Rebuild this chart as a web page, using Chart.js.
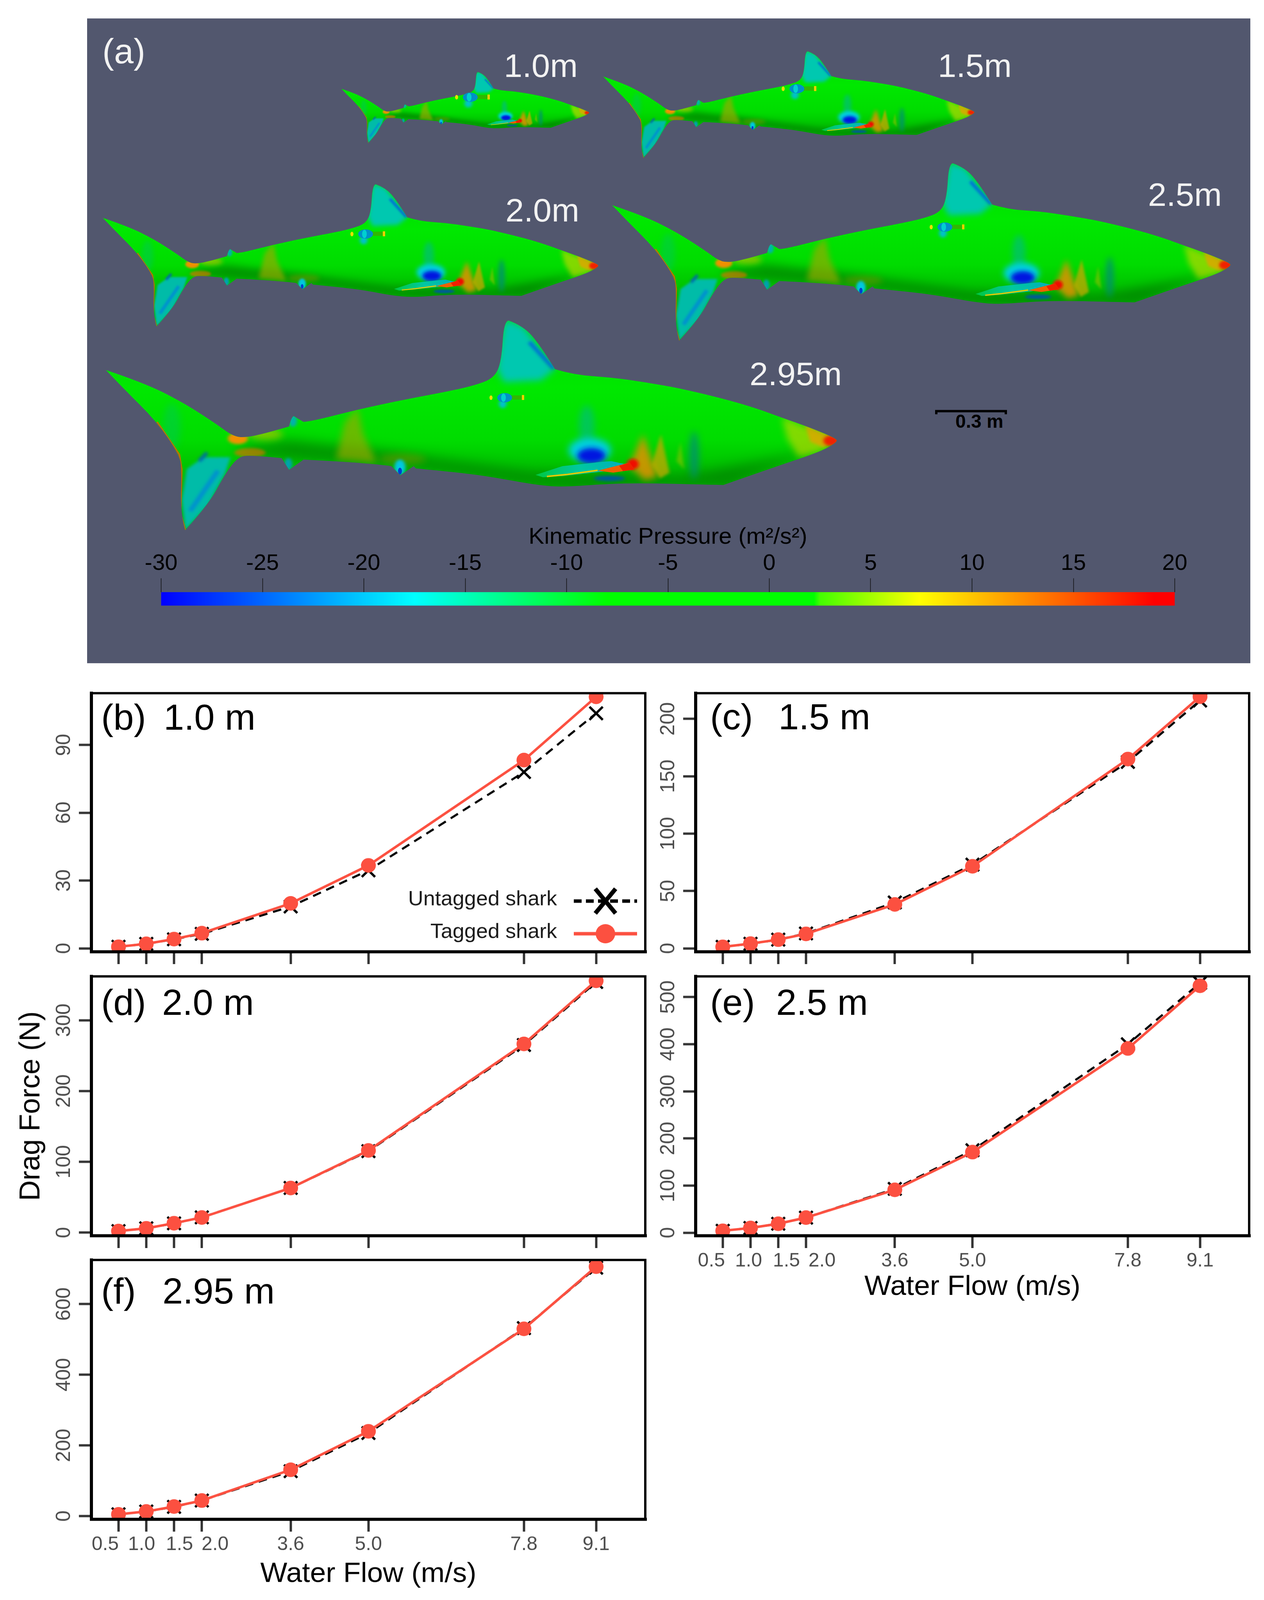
<!DOCTYPE html>
<html><head><meta charset="utf-8">
<script src="https://cdn.jsdelivr.net/npm/chart.js@4"></script>
<style>
html,body{margin:0;padding:0;background:#fff;overflow:hidden}
#page{position:relative;width:3236px;height:4164px;overflow:hidden;background:#fff;font-family:"Liberation Sans",Arial,sans-serif;transform-origin:0 0}
#art{position:absolute;left:0;top:0;z-index:1}
canvas{position:absolute;z-index:2}
</style></head><body><div id="page">
<svg id="art" width="3236" height="4164" viewBox="0 0 3236 4164" xmlns="http://www.w3.org/2000/svg" font-family="Liberation Sans, Arial, sans-serif">
<defs>
<linearGradient id="bodyG" gradientUnits="userSpaceOnUse" x1="0" y1="834" x2="0" y2="1266">
<stop offset="0" stop-color="#00d800"/><stop offset=".4" stop-color="#00e800"/><stop offset=".72" stop-color="#00dc00"/><stop offset="1" stop-color="#00b000"/>
</linearGradient>
<linearGradient id="finG" gradientUnits="userSpaceOnUse" x1="1371" y1="1240" x2="1620" y2="1200">
<stop offset="0" stop-color="#00c840"/><stop offset=".45" stop-color="#00c8a0"/><stop offset="1" stop-color="#00a8c0"/>
</linearGradient>
<filter id="b4" x="-60%" y="-60%" width="220%" height="220%"><feGaussianBlur stdDeviation="4"/></filter>
<filter id="b7" x="-60%" y="-60%" width="220%" height="220%"><feGaussianBlur stdDeviation="7"/></filter>
<filter id="b9" x="-80%" y="-80%" width="260%" height="260%"><feGaussianBlur stdDeviation="9"/></filter>
<filter id="b16" x="-80%" y="-80%" width="260%" height="260%"><feGaussianBlur stdDeviation="16"/></filter>
<clipPath id="sharkClip"><path id="outline" d=""/></clipPath>
<g id="shark">
<g clip-path="url(#sharkClip)">
<rect x="250" y="820" width="1920" height="580" fill="url(#bodyG)"/>
<polygon points="602,1167 740,1144 990,1175 1365,1229 1740,1240 2090,1175 1865,1263 1490,1267 1340,1257 1052,1217 777,1198 640,1186" fill="#007a00" opacity=".7" filter="url(#b16)"/>
<polygon points="915,1060 882,1100 860,1195 965,1205 930,1130" fill="#a0a800" opacity=".65" filter="url(#b9)"/>
<ellipse cx="1030" cy="1195" rx="60" ry="14" fill="#b09000" opacity=".35" filter="url(#b9)"/>
<polygon points="1290,836 1302,834 1340,848 1421,961 1385,990 1290,995 1272,960" fill="#00c8b0" filter="url(#b9)"/>
<line x1="1355" y1="890" x2="1418" y2="960" stroke="#0070d8" stroke-width="10" filter="url(#b4)"/>
<ellipse cx="1502" cy="1110" rx="20" ry="55" fill="#00b890" opacity=".6" filter="url(#b9)"/>
<ellipse cx="1510" cy="1172" rx="54" ry="32" fill="#00d0e0" filter="url(#b9)"/>
<ellipse cx="1514" cy="1186" rx="36" ry="20" fill="#0018e0" filter="url(#b7)"/>
<polygon points="1646,1130 1612,1212 1650,1250 1684,1240" fill="#e49000" opacity=".85" filter="url(#b9)"/>
<polygon points="1692,1130 1668,1210 1690,1245 1714,1230" fill="#c8a800" opacity=".75" filter="url(#b4)"/>
<polygon points="1742,1150 1732,1200 1752,1222" fill="#a0c000" opacity=".55" filter="url(#b4)"/>
<ellipse cx="1777" cy="1185" rx="12" ry="62" fill="#008880" opacity=".75" filter="url(#b9)"/>
<ellipse cx="1620" cy="1208" rx="15" ry="14" fill="#f01000" filter="url(#b4)"/>
<ellipse cx="1560" cy="1245" rx="40" ry="7" fill="#0050b0" opacity=".9" filter="url(#b4)"/>
<polygon points="2002,1085 2140,1141 2102,1175 2045,1190 2015,1140" fill="#d8d800" opacity=".6" filter="url(#b9)"/>
<polygon points="2060,1105 2142,1142 2110,1165 2075,1150" fill="#e8a000" opacity=".75" filter="url(#b4)"/>
<ellipse cx="2128" cy="1147" rx="20" ry="14" fill="#f02000" filter="url(#b4)"/>
<ellipse cx="609" cy="1141" rx="26" ry="15" fill="#f09000" filter="url(#b4)"/>
<ellipse cx="680" cy="1130" rx="44" ry="14" fill="#c0c000" opacity=".65" filter="url(#b9)"/>
<ellipse cx="640" cy="1178" rx="40" ry="12" fill="#e07000" opacity=".65" filter="url(#b4)"/>
<polygon points="521,1190 590,1190 577,1232 534,1313 474,1380 465,1300 478,1221" fill="#00bca8" filter="url(#b4)"/>
<line x1="558" y1="1225" x2="487" y2="1330" stroke="#0090d0" stroke-width="12" filter="url(#b4)"/>
<line x1="510" y1="1200" x2="530" y2="1178" stroke="#0050d0" stroke-width="9" opacity=".8" filter="url(#b4)"/>
<ellipse cx="440" cy="1110" rx="22" ry="60" fill="#00c070" opacity=".4" filter="url(#b9)"/>
<ellipse cx="750" cy="1095" rx="10" ry="16" fill="#00b0b0" filter="url(#b4)"/>
<ellipse cx="738" cy="1208" rx="10" ry="16" fill="#00a0b0" filter="url(#b4)"/>
<ellipse cx="1024" cy="1216" rx="14" ry="20" fill="#00c8e0" filter="url(#b4)"/>
<ellipse cx="1024" cy="1226" rx="5" ry="9" fill="#0040d0"/>
<polyline points="474,1380 462,1336 465,1221 459,1183 402,1098" fill="none" stroke="#e06000" stroke-width="5" opacity=".8"/>
</g>
<polygon points="1371,1236 1440,1213 1540,1202 1565,1200 1615,1211 1621,1219 1527,1229 1440,1239 1390,1242" fill="url(#finG)"/>
<polyline points="1400,1240 1450,1235 1530,1224" fill="none" stroke="#e8c800" stroke-width="4"/>
<polygon points="1530,1225 1580,1212 1612,1204 1624,1222 1570,1230" fill="#f06000"/>
<polygon points="1585,1212 1612,1204 1624,1222 1595,1226" fill="#f02000"/>
</g>
<g id="tag">
<ellipse cx="-5" cy="16" rx="10" ry="11" fill="#00c0d0" filter="url(#b4)"/>
<rect x="0" y="-6" width="48" height="11" fill="#30b800"/>
<rect x="44" y="-7" width="6" height="13" fill="#f0d000"/>
<ellipse cx="-35" cy="0" rx="4" ry="6" fill="#e8e000"/>
<ellipse cx="0" cy="0" rx="19" ry="12" fill="#0090c8"/>
<ellipse cx="-3" cy="0" rx="6" ry="11" fill="#00d0d0"/>
</g>
</defs>
<rect x="223" y="48" width="2978" height="1678" fill="#52576E"/>
<g id="artShapes"></g>
<g id="artText"></g>
</svg>
</div>
<script>
// ---- data ----
const flowSpeeds = [0.5, 1.0, 1.5, 2.0, 3.6, 5.0, 7.8, 9.1];
const seriesNames = ['Untagged shark', 'Tagged shark'];
const untagged10 = [0.7, 2.0, 4.0, 6.4, 18.5, 34.5, 78, 104];
const tagged10   = [0.7, 2.0, 4.1, 6.7, 19.9, 36.7, 83.3, 111.3];
const untagged15 = [1.3, 4.0, 7.6, 13.0, 40, 73, 162.5, 216];
const tagged15   = [1.3, 4.1, 7.6, 12.6, 38.3, 71.5, 165, 219.4];
const untagged20 = [2.1, 6.0, 13.0, 21.5, 63, 115, 265, 354];
const tagged20   = [2.1, 6.0, 13.2, 21.3, 63, 116, 266.6, 355.8];
const untagged25 = [4, 10, 19, 32, 93, 175, 400, 530];
const tagged25   = [4, 10, 19, 32, 91, 171, 391, 524];
const untagged295 = [5, 13, 26, 44, 127, 235, 532, 703];
const tagged295   = [5, 13, 27, 44, 131, 240, 530, 706];
const ticks10 = [0, 30, 60, 90];
const ticks15 = [0, 50, 100, 150, 200];
const ticks20 = [0, 100, 200, 300];
const ticks25 = [0, 100, 200, 300, 400, 500];
const ticks295 = [0, 200, 400, 600];
const pressureTicks = [-30, -25, -20, -15, -10, -5, 0, 5, 10, 15, 20];
const pressureStops = [-30, -17.5, -8, 2.2, 2.5, 7.4, 19, 20];
const pressureColors = ['#0000ff', '#00ffff', '#00ff00', '#00ff00', '#44ff00', '#ffff00', '#ff0000', '#ff0000'];
const xTitle = 'Water Flow (m/s)';
const yTitle = 'Drag Force (N)';
const pressureTitle = 'Kinematic Pressure (m²/s²)';

// the browser window can be shorter than the figure: squeeze the page so the whole figure shows
const FIG_H = 4164;
const fit = Math.min(1, window.innerHeight / FIG_H);
document.getElementById('page').style.transform = `scale(1,${fit})`;

// ---- figure layout ----
const RED = '#FC5040', GREY = '#4D4D4D', TICK = '#333333', SANS = '"Liberation Sans", Arial, sans-serif';
const panels = [
 {id:'b', size:'1.0 m', u:untagged10, t:tagged10, ticks:ticks10, box:[234,1804,1652,2477], y:[-1.53,112.9], tx:[265,423], base:1899, legend:true},
 {id:'c', size:'1.5 m', u:untagged15, t:tagged15, ticks:ticks15, box:[1781,1804,3198,2477], y:[-3.0,222.4], tx:[1824,1997], base:1898},
 {id:'d', size:'2.0 m', u:untagged20, t:tagged20, ticks:ticks20, box:[234,2541,1652,3216], y:[-4.5,362], tx:[265,419], base:2641, yTitle:true},
 {id:'e', size:'2.5 m', u:untagged25, t:tagged25, ticks:ticks25, box:[1781,2541,3198,3216], y:[-6.5,544], tx:[1824,1991], base:2641, labels:[-29,-5,21,41,0,0,0,0], titlePad:62},
 {id:'f', size:'2.95 m', u:untagged295, t:tagged295, ticks:ticks295, box:[234,3279,1652,3954], y:[-9.2,725], tx:[265,420], base:3392, labels:[-34,-12,14,34,0,0,0,0], titlePad:53}
];
const X_RANGE = [0.012, 9.985], AXIS_W = 200, PAD_T = 40, PAD_R = 30, AXIS_H = 60, AXIS_H_LAB = 240;

// ---- illustration in panel (a): one outline, scaled per shark length ----
const outlinePts = [[271,963,1],[365,995],[465,1045],[552,1102],[596,1135],[627,1139],[680,1128],[740,1110,1],[746,1085],[752,1083,1],[777,1098,1],[796,1097],[915,1066],[1040,1039],[1150,1018],[1215,1003],[1265,984],[1284,940],[1290,836],[1302,834,1],[1340,848],[1384,900],[1421,961,1],[1471,976],[1565,982],[1652,995],[1740,1010],[1865,1041],[1940,1064],[2002,1087],[2077,1114],[2140,1141],[2144,1150],[2102,1175],[1990,1213],[1852,1262,1],[1802,1261],[1652,1257],[1552,1259],[1440,1268],[1365,1261],[1265,1242],[1177,1230],[1065,1219,1],[1059,1213,1],[1025,1237,1],[1002,1213,1],[940,1204],[777,1196,1],[740,1223,1],[721,1192,1],[640,1184],[609,1190],[577,1232],[534,1313],[474,1380,1],[462,1336],[465,1221],[459,1183],[402,1098],[315,1010]];
function smoothPath(p){
  let d = 'M'+p[0][0]+' '+p[0][1];
  const n = p.length;
  for(let i=1;i<=n;i++){
    const c = p[i%n], nx = p[(i+1)%n];
    if(c[2]){ d += ' L'+c[0]+' '+c[1]; continue; }
    const tx = nx[2] ? nx[0] : (c[0]+nx[0])/2, ty = nx[2] ? nx[1] : (c[1]+nx[1])/2;
    d += ' Q'+c[0]+' '+c[1]+' '+tx+' '+ty;
  }
  return d+' Z';
}
document.getElementById('outline').setAttribute('d',smoothPath(outlinePts));

const NS = 'http://www.w3.org/2000/svg';
function svgText(s, x, y, size, fill, extra){
  const t = document.createElementNS(NS,'text');
  t.textContent = s; t.setAttribute('x',x); t.setAttribute('y',y);
  t.setAttribute('font-size',size); t.setAttribute('fill',fill);
  if(extra) for(const k in extra) t.setAttribute(k,extra[k]);
  document.getElementById('artText').appendChild(t);
}
const shapes = document.getElementById('artShapes');
[[1,271,963,1292,1035],[.846,1567,534,2419,591],[.678,263,567,936,609],[.508,1544,199,2040,231],[.339,874,231,1204,253]].forEach(([s,x,y,tagX,tagY])=>{
  const u = document.createElementNS(NS,'use');
  u.setAttribute('href','#shark');
  u.setAttribute('transform',`translate(${x} ${y}) scale(${s}) translate(-271 -963)`);
  shapes.appendChild(u);
  const g = document.createElementNS(NS,'use');
  g.setAttribute('href','#tag');
  g.setAttribute('transform',`translate(${tagX} ${tagY})`);
  shapes.appendChild(g);
});
svgText('(a)',262,165,90,'#F2F2F2');
[['1.0m',1290,200],['1.5m',2401,200],['2.0m',1294,576],['2.5m',2939,536],['2.95m',1919,1002]].forEach(([s,x,y])=>svgText(s,x,y,85,'#F2F2F2'));
svgText('0.3 m',2446,1113,48,'#000',{'font-weight':'bold'});
const bar = document.createElementNS(NS,'path');
bar.setAttribute('d','M2397 1078 V1070 H2575 V1078'); bar.setAttribute('fill','none'); bar.setAttribute('stroke','#000'); bar.setAttribute('stroke-width','6');
shapes.appendChild(bar);
panels.forEach(p=>{
  svgText('('+p.id+')',p.tx[0]-6,p.base,94,'#000');
  svgText(p.size,p.tx[1]-4,p.base,94,'#000');
});

// plugin: moves tick labels (ggplot's dodged labels, rotated y labels) and draws the frame
const panelFrame = {
  id:'panelFrame',
  beforeDraw(chart){
    const o = chart.options.plugins.panelFrame; if(!o || !o.on) return;
    const a = chart.chartArea;
    chart.scales.y.getLabelItems(a).forEach(it=>{ it.options.translation[0] = a.left - 69; });
    if(o.labels){
      chart.scales.x.getLabelItems(a).forEach((it,i)=>{ it.options.translation[0] += o.labels[i]; });
    }
  },
  afterDatasetsDraw(chart){
    const o = chart.options.plugins.panelFrame; if(!o || !o.on) return;
    const c = chart.ctx, a = chart.chartArea;
    c.save(); c.strokeStyle='#000'; c.lineCap='square';
    c.lineWidth=6; c.beginPath(); c.moveTo(a.left,a.top); c.lineTo(a.right,a.top); c.lineTo(a.right,a.bottom); c.stroke();
    c.lineWidth=8; c.beginPath(); c.moveTo(a.left,a.top); c.lineTo(a.left,a.bottom); c.lineTo(a.right,a.bottom); c.stroke();
    c.restore();
  }
};
// plugin: key inside panel (b): text on the left, sample on the right
const insideKey = {
  id:'insideKey',
  afterDraw(chart){
    const o = chart.options.plugins.insideKey; if(!o || !o.on) return;
    const c = chart.ctx, a = chart.chartArea;
    const textR = a.right-226, keyL = a.right-183, keyR = a.right-21, keyC = a.right-102;
    const rows = [[a.bottom-132,0],[a.bottom-47,1]];
    c.save();
    rows.forEach(([y,i])=>{
      const d = chart.data.datasets[i];
      c.fillStyle='#1a1a1a'; c.font='54px '+SANS; c.textAlign='right'; c.textBaseline='middle';
      c.fillText(d.label,textR,y-4);
      c.strokeStyle=d.borderColor; c.lineWidth=9; c.setLineDash(i?[]:[20,11]);
      c.beginPath(); c.moveTo(keyL,y); c.lineTo(keyR,y); c.stroke(); c.setLineDash([]);
      if(i){ c.fillStyle=d.pointBackgroundColor; c.beginPath(); c.arc(keyC,y,25,0,Math.PI*2); c.fill(); }
      else { c.strokeStyle='#000'; c.lineWidth=11; c.beginPath(); c.moveTo(keyC-26,y-32); c.lineTo(keyC+26,y+32); c.moveTo(keyC+26,y-32); c.lineTo(keyC-26,y+32); c.stroke(); }
    });
    c.restore();
  }
};
Chart.register(panelFrame, insideKey);

function mkCanvas(l,t,w,h){
  const cv = document.createElement('canvas');
  cv.width=w; cv.height=h; cv.style.left=l+'px'; cv.style.top=t+'px'; cv.style.width=w+'px'; cv.style.height=h+'px';
  document.getElementById('page').appendChild(cv);
  return cv;
}

panels.forEach(p=>{
  const [l,t,r,b] = p.box;
  const axisH = p.labels ? AXIS_H_LAB : AXIS_H;
  const cv = mkCanvas(l-AXIS_W, t-PAD_T, r-l+AXIS_W+PAD_R, b-t+PAD_T+axisH);
  new Chart(cv,{
    type:'line',
    data:{datasets:[
      {label:seriesNames[0], data:flowSpeeds.map((x,i)=>({x,y:p.u[i]})), order:2, clip:0,
       borderColor:'#000', borderWidth:5.5, borderDash:[22,15], pointStyle:'crossRot', pointRadius:24,
       pointBorderColor:'#000', pointBorderWidth:6, pointBackgroundColor:'transparent', tension:0},
      {label:seriesNames[1], data:flowSpeeds.map((x,i)=>({x,y:p.t[i]})), order:1, clip:0,
       borderColor:RED, borderWidth:6.5, pointStyle:'circle', pointRadius:19, pointBorderWidth:0,
       pointBackgroundColor:RED, tension:0}
    ]},
    options:{
      responsive:false, animation:false, devicePixelRatio:1, events:[],
      layout:{padding:{top:PAD_T,right:PAD_R,left:0,bottom:0}},
      plugins:{legend:{display:false},tooltip:{enabled:false},title:{display:false},
        panelFrame:{on:true,labels:p.labels||null}, insideKey:{on:!!p.legend}},
      scales:{
        x:{type:'linear',min:X_RANGE[0],max:X_RANGE[1],
           afterBuildTicks:s=>{s.ticks=flowSpeeds.map(value=>({value}));},
           afterFit:s=>{s.height=axisH;},
           grid:{drawOnChartArea:false,drawTicks:true,tickLength:32,tickColor:TICK,tickWidth:6},
           border:{display:false},
           ticks:{display:!!p.labels,autoSkip:false,maxRotation:0,minRotation:0,padding:4,color:GREY,
                  font:{family:SANS,size:50},callback:v=>Number(v).toFixed(1)},
           title:{display:!!p.labels,text:xTitle,color:'#000',font:{family:SANS,size:73},padding:{top:0,bottom:p.titlePad||0}}},
        y:{type:'linear',min:p.y[0],max:p.y[1],
           afterBuildTicks:s=>{s.ticks=p.ticks.map(value=>({value}));},
           afterFit:s=>{s.width=AXIS_W;},
           grid:{drawOnChartArea:false,tickLength:32,tickColor:TICK,tickWidth:6},
           border:{display:false},
           ticks:{autoSkip:false,minRotation:90,maxRotation:90,padding:0,crossAlign:'center',color:GREY,
                  font:{family:SANS,size:52}},
           title:{display:!!p.yTitle,text:yTitle,color:'#000',font:{family:SANS,size:74},padding:{top:2,bottom:0}}}
      }
    }
  });
});

// colour bar as a floating horizontal bar on the pressure scale
const cbCanvas = mkCanvas(223,1350,2978,290);
new Chart(cbCanvas,{
  type:'bar',
  data:{labels:[pressureTitle],datasets:[{
    data:[[pressureTicks[0],pressureTicks[pressureTicks.length-1]]],
    barPercentage:1,categoryPercentage:1,borderWidth:0,borderSkipped:false,
    backgroundColor(ctx){
      const a = ctx.chart.chartArea; if(!a) return '#00ff00';
      const g = ctx.chart.ctx.createLinearGradient(a.left,0,a.right,0);
      const lo = pressureStops[0], hi = pressureStops[pressureStops.length-1];
      pressureStops.forEach((v,i)=>g.addColorStop((v-lo)/(hi-lo),pressureColors[i]));
      return g;
    }
  }]},
  options:{
    indexAxis:'y',responsive:false,animation:false,devicePixelRatio:1,events:[],
    layout:{padding:{left:189.5,right:193.5,top:0,bottom:64}},
    plugins:{legend:{display:false},tooltip:{enabled:false}},
    scales:{
      y:{display:false},
      x:{position:'top',type:'linear',min:pressureTicks[0],max:pressureTicks[pressureTicks.length-1],
         afterBuildTicks:s=>{s.ticks=pressureTicks.map(value=>({value}));},
         afterFit:s=>{s.height=191;},
         grid:{drawOnChartArea:false,tickLength:36,tickColor:'#111',tickWidth:1.5},
         border:{display:false},
         ticks:{autoSkip:false,maxRotation:0,minRotation:0,padding:3,color:'#000',font:{family:SANS,size:58}},
         title:{display:true,text:pressureTitle,color:'#000',font:{family:SANS,size:60},padding:{top:12,bottom:0}}}
    }
  }
});
</script>
</body></html>
